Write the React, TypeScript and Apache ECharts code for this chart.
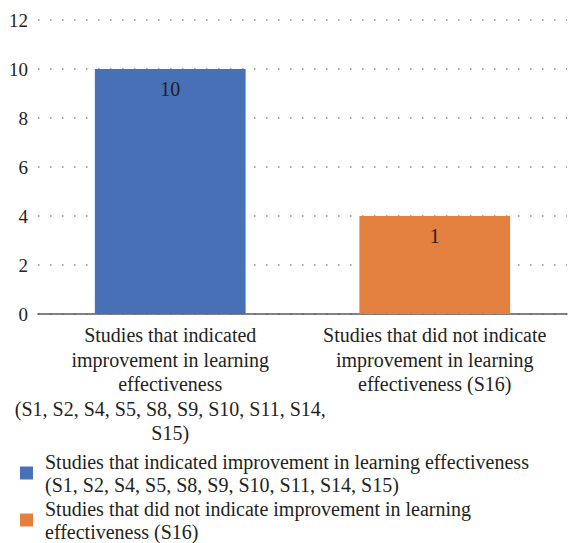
import React, { useEffect, useRef } from "react";
import * as echarts from "echarts";

const categories = [
  "Studies that indicated\nimprovement in learning\neffectiveness\n(S1, S2, S4, S5, S8, S9, S10, S11, S14,\nS15)",
  "Studies that did not indicate\nimprovement in learning\neffectiveness (S16)",
];
const seriesNames = [
  "Studies that indicated improvement in learning effectiveness\n(S1, S2, S4, S5, S8, S9, S10, S11, S14, S15)",
  "Studies that did not indicate improvement in learning\neffectiveness (S16)",
];
const barValues = [10, 4];
const studyCounts = [10, 1];
const colors = ["#4870B6", "#E4803F"];
const yTicks = [0, 2, 4, 6, 8, 10, 12];

const FONT = "Liberation Serif";
const TEXT = "#231f20";

export default function App() {
  const ref = useRef<HTMLDivElement>(null);

  useEffect(() => {
    document.body.style.margin = "0";
    if (!ref.current) return;
    const chart = echarts.init(ref.current, undefined, { renderer: "svg" });

    // One series per category so each bar gets its own legend entry.
    const series = seriesNames.map((name, i) => ({
      name,
      type: "bar",
      stack: "all",
      barWidth: "57%",
      itemStyle: { color: colors[i] },
      data: categories.map((_, j) => (j === i ? barValues[j] : null)),
      label: {
        show: true,
        position: "insideTop",
        distance: 10,
        fontFamily: FONT,
        fontSize: 20,
        color: TEXT,
        formatter: () => String(studyCounts[i]),
      },
    }));

    chart.setOption({
      animation: false,
      textStyle: { fontFamily: FONT },
      grid: { left: 38, right: 8, top: 20, bottom: 229 },
      legend: {
        orient: "vertical",
        left: 20,
        top: 450,
        height: 150,
        padding: 0,
        itemWidth: 13,
        itemHeight: 13,
        itemGap: 1,
        icon: "rect",
        data: seriesNames,
        textStyle: {
          fontFamily: FONT,
          fontSize: 20,
          color: TEXT,
          lineHeight: 23,
          padding: [0, 0, 0, 7],
        },
      },
      xAxis: {
        type: "category",
        data: categories,
        axisTick: { show: false },
        axisLine: { lineStyle: { color: "#595959", width: 1.5 } },
        axisLabel: {
          interval: 0,
          margin: 9,
          fontFamily: FONT,
          fontSize: 20,
          lineHeight: 24.5,
          color: TEXT,
          align: "center",
        },
      },
      yAxis: {
        type: "value",
        min: yTicks[0],
        max: yTicks[yTicks.length - 1],
        interval: 2,
        axisLine: { show: false },
        axisTick: { show: false },
        axisLabel: {
          margin: 10,
          fontFamily: FONT,
          fontSize: 19,
          color: TEXT,
        },
        splitLine: {
          lineStyle: { color: "#8c8c8c", type: [1.5, 10.5], width: 1.5 },
        },
      },
      series,
    });

    return () => chart.dispose();
  }, []);

  return (
    <div
      ref={ref}
      style={{ position: "absolute", left: 0, top: 0, width: 575, height: 543 }}
    />
  );
}
